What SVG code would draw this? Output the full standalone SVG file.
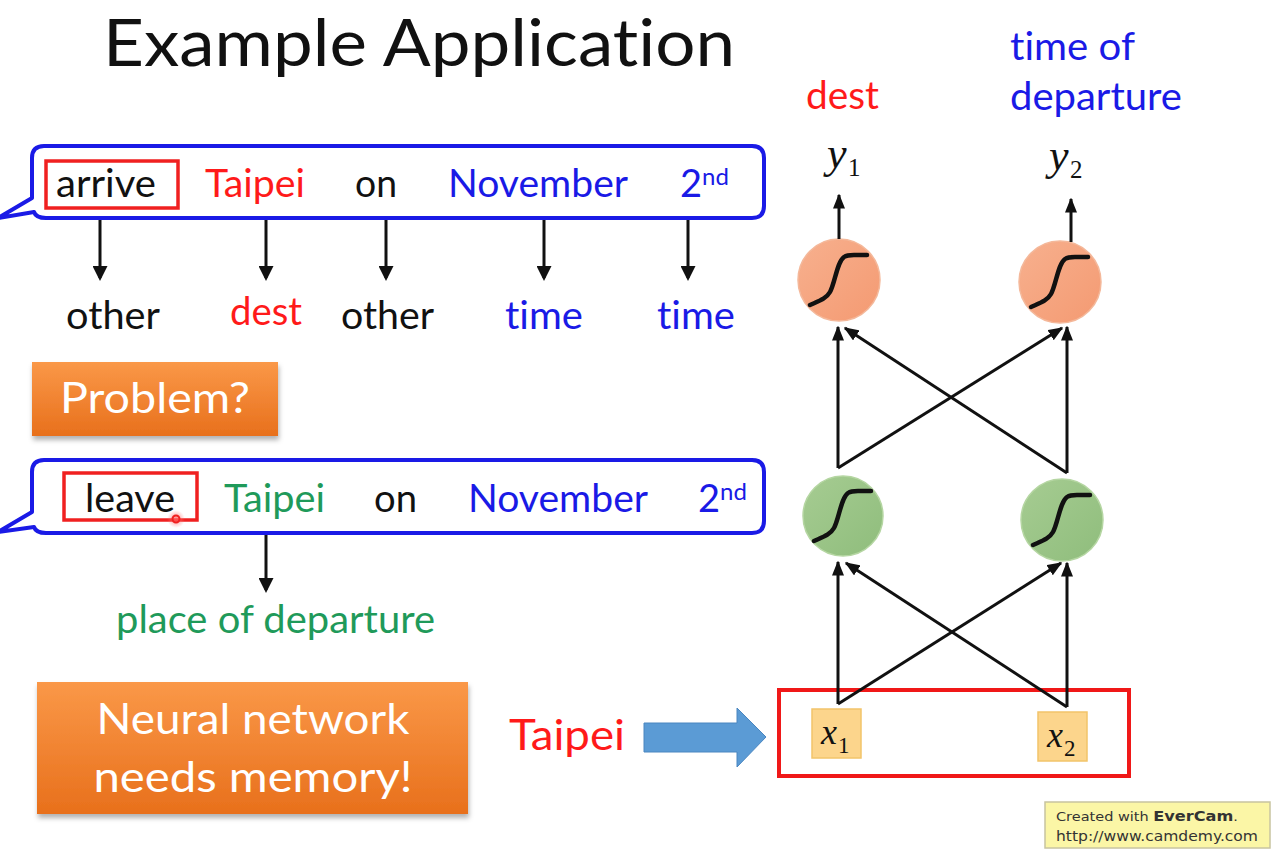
<svg xmlns="http://www.w3.org/2000/svg" width="1280" height="854" viewBox="0 0 1280 854">
<defs>
<style>
.t{font-family:Lato,"Open Sans","Liberation Sans",sans-serif;font-variant-ligatures:none}
.k{fill:#111}
.r{fill:#ff1a1a}
.b{fill:#1a1ae6}
.g{fill:#1f9a5a}
.w{fill:#ffffff}
.bub{fill:#ffffff;stroke:#1a1ae6;stroke-width:4;stroke-linejoin:round}
.hl{fill:none;stroke:#f02020;stroke-width:3.5}
.dn{stroke:#111;stroke-width:3;fill:none;marker-end:url(#ah)}
.nn{stroke:#111;stroke-width:3;fill:none;marker-end:url(#ah2)}
.sig{fill:none;stroke:#111;stroke-width:4.5;stroke-linecap:round;stroke-linejoin:round}
.m{font-family:"Liberation Serif","DejaVu Serif",serif;fill:#111}
</style>
<marker id="ah" markerWidth="5" markerHeight="5" refX="4" refY="2.5" orient="auto" markerUnits="strokeWidth">
<path d="M0,0 L5,2.5 L0,5 Z" fill="#111"/>
</marker>
<marker id="ah2" markerWidth="5" markerHeight="4" refX="4.5" refY="2" orient="auto" markerUnits="strokeWidth">
<path d="M0,0 L5,2 L0,4 Z" fill="#111"/>
</marker>
<path id="sg" class="sig" d="M-29,25 C-20,21 -13,19 -9,12 C-4,3 -2,-18 5,-23 C8,-25 11,-25 15,-25 L28,-25"/>
<linearGradient id="og" x1="0" y1="0" x2="0" y2="1">
<stop offset="0" stop-color="#fa9848"/>
<stop offset="1" stop-color="#e8701c"/>
</linearGradient>
<linearGradient id="oc" x1="0" y1="0" x2="1" y2="1">
<stop offset="0" stop-color="#f7b08e"/>
<stop offset="1" stop-color="#f49a72"/>
</linearGradient>
<linearGradient id="gc" x1="0" y1="0" x2="1" y2="1">
<stop offset="0" stop-color="#a6cc92"/>
<stop offset="1" stop-color="#8fbd7c"/>
</linearGradient>
<filter id="sh" x="-10%" y="-10%" width="120%" height="130%">
<feDropShadow dx="1" dy="4" stdDeviation="2.5" flood-color="#000" flood-opacity="0.3"/>
</filter>
<radialGradient id="cur">
<stop offset="0" stop-color="#ff6060" stop-opacity="0.8"/>
<stop offset="1" stop-color="#ff8080" stop-opacity="0"/>
</radialGradient>
</defs>
<rect width="1280" height="854" fill="#ffffff"/>

<text id="title" class="t k" x="103" y="66" font-size="66" textLength="632" lengthAdjust="spacingAndGlyphs">Example Application</text>

<g id="bubble1">
<path class="bub" d="M44,146 H752 Q764,146 764,158 V206 Q764,218 752,218 H46 Q36,218 34,212 L-2,218 L32,198 V158 Q32,146 44,146 Z"/>
<rect class="hl" x="46" y="161" width="132" height="47"/>
<text class="t k" x="56" y="197" font-size="38" textLength="100" lengthAdjust="spacingAndGlyphs">arrive</text>
<text class="t r" x="205" y="197" font-size="38" textLength="100" lengthAdjust="spacingAndGlyphs">Taipei</text>
<text class="t k" x="355" y="197" font-size="38" textLength="42" lengthAdjust="spacingAndGlyphs">on</text>
<text class="t b" x="448" y="197" font-size="38" textLength="180" lengthAdjust="spacingAndGlyphs">November</text>
<text class="t b" x="680" y="197" font-size="38">2<tspan font-size="24" dy="-12">nd</tspan></text>
</g>

<g id="labels1">
<text class="t k" x="66" y="329" font-size="38" textLength="94" lengthAdjust="spacingAndGlyphs">other</text>
<text class="t r" x="230" y="325" font-size="38" textLength="72" lengthAdjust="spacingAndGlyphs">dest</text>
<text class="t k" x="341" y="329" font-size="38" textLength="93" lengthAdjust="spacingAndGlyphs">other</text>
<text class="t b" x="505" y="329" font-size="38" textLength="78" lengthAdjust="spacingAndGlyphs">time</text>
<text class="t b" x="657" y="329" font-size="38" textLength="78" lengthAdjust="spacingAndGlyphs">time</text>
</g>

<g id="problem">
<rect x="32" y="362" width="246" height="74" fill="url(#og)" filter="url(#sh)"/>
<text class="t w" x="60" y="413" font-size="42" textLength="190" lengthAdjust="spacingAndGlyphs">Problem?</text>
</g>

<g id="bubble2">
<path class="bub" d="M44,460 H752 Q764,460 764,472 V521 Q764,533 752,533 H46 Q36,533 34,527 L-2,532 L32,512 V472 Q32,460 44,460 Z"/>
<rect class="hl" x="64" y="473" width="133" height="47"/>
<text class="t k" x="85" y="512" font-size="38" textLength="90" lengthAdjust="spacingAndGlyphs">leave</text>
<text class="t g" x="224" y="512" font-size="38" textLength="101" lengthAdjust="spacingAndGlyphs">Taipei</text>
<text class="t k" x="374" y="512" font-size="38" textLength="43" lengthAdjust="spacingAndGlyphs">on</text>
<text class="t b" x="468" y="512" font-size="38" textLength="180" lengthAdjust="spacingAndGlyphs">November</text>
<text class="t b" x="698" y="512" font-size="38">2<tspan font-size="24" dy="-12">nd</tspan></text>
<circle cx="176" cy="519" r="9" fill="url(#cur)"/>
<circle cx="176" cy="519" r="3.5" fill="none" stroke="#f02020" stroke-width="2"/>
</g>

<text id="place" class="t g" x="116" y="633" font-size="38" textLength="319" lengthAdjust="spacingAndGlyphs">place of departure</text>

<g id="memory">
<rect x="37" y="682" width="431" height="132" fill="url(#og)" filter="url(#sh)"/>
<text class="t w" x="253" y="734" font-size="42" text-anchor="middle" textLength="313" lengthAdjust="spacingAndGlyphs">Neural network</text>
<text class="t w" x="253" y="792" font-size="42" text-anchor="middle" textLength="319" lengthAdjust="spacingAndGlyphs">needs memory!</text>
</g>

<g id="taipei-input">
<text class="t r" x="509" y="750" font-size="42" textLength="116" lengthAdjust="spacingAndGlyphs">Taipei</text>
<path d="M644,723 H737 V708 L766,737 L737,767 V752 H644 Z" fill="#5b9bd5" stroke="#4a86c0" stroke-width="1"/>
</g>

<g id="input-box">
<rect x="779" y="690" width="350" height="86" fill="none" stroke="#f01818" stroke-width="4"/>
</g>
<g id="x1">
<rect x="812" y="709" width="49" height="49" fill="#fcd58c" stroke="#f2c46a" stroke-width="1.5"/>
<text class="m" x="821" y="744" font-size="36" font-style="italic">x</text>
<text class="m" x="838" y="753" font-size="23">1</text>
</g>
<g id="x2">
<rect x="1038" y="712" width="49" height="49" fill="#fcd58c" stroke="#f2c46a" stroke-width="1.5"/>
<text class="m" x="1047" y="747" font-size="36" font-style="italic">x</text>
<text class="m" x="1064" y="756" font-size="23">2</text>
</g>

<g id="h1">
<circle cx="843" cy="516" r="40" fill="url(#gc)" stroke="#b5d6a2" stroke-width="1.5"/>
<use href="#sg" transform="translate(843,516)"/>
</g>
<g id="h2">
<circle cx="1062" cy="520" r="41" fill="url(#gc)" stroke="#b5d6a2" stroke-width="1.5"/>
<use href="#sg" transform="translate(1062,520)"/>
</g>
<g id="o1">
<circle cx="839" cy="280" r="41" fill="url(#oc)" stroke="#f4b89a" stroke-width="1.5"/>
<use href="#sg" transform="translate(839,280)"/>
</g>
<g id="o2">
<circle cx="1060" cy="282" r="41" fill="url(#oc)" stroke="#f4b89a" stroke-width="1.5"/>
<use href="#sg" transform="translate(1060,282)"/>
</g>

<g id="outputs">
<text class="m" x="827" y="168" font-size="44" font-style="italic">y</text>
<text class="m" x="848" y="176" font-size="25">1</text>
<text class="m" x="1049" y="170" font-size="44" font-style="italic">y</text>
<text class="m" x="1070" y="178" font-size="25">2</text>
<text class="t r" x="806" y="109" font-size="38" textLength="73" lengthAdjust="spacingAndGlyphs">dest</text>
<text class="t b" x="1010" y="60" font-size="38" textLength="125" lengthAdjust="spacingAndGlyphs">time of</text>
<text class="t b" x="1010" y="110" font-size="38" textLength="172" lengthAdjust="spacingAndGlyphs">departure</text>
</g>

<g id="connectors">
<line class="dn" x1="100" y1="220" x2="100" y2="278"/>
<line class="dn" x1="266" y1="220" x2="266" y2="278"/>
<line class="dn" x1="386" y1="220" x2="386" y2="278"/>
<line class="dn" x1="544" y1="220" x2="544" y2="278"/>
<line class="dn" x1="688" y1="220" x2="688" y2="278"/>
<line class="dn" x1="266" y1="535" x2="266" y2="590"/>

<line class="nn" x1="838" y1="704" x2="838" y2="562"/>
<line class="nn" x1="1067" y1="707" x2="1067" y2="563"/>
<polyline class="nn" points="838,704 1061,563"/>
<polyline class="nn" points="1067,707 846,563"/>

<line class="nn" x1="838" y1="468" x2="838" y2="327"/>
<line class="nn" x1="1067" y1="473" x2="1067" y2="327"/>
<polyline class="nn" points="838,468 1062,328"/>
<polyline class="nn" points="1067,473 845,328"/>

<line class="nn" x1="839" y1="239" x2="839" y2="195"/>
<line class="nn" x1="1071" y1="242" x2="1071" y2="199"/>
</g>

<g id="watermark">
<rect x="1045" y="802" width="225" height="46" fill="#fbf6a6" stroke="#c8c4a0" stroke-width="1.5"/>
<text x="1056" y="821" font-family="'DejaVu Sans',sans-serif" font-size="13" fill="#333" textLength="182" lengthAdjust="spacingAndGlyphs">Created with <tspan font-weight="bold" font-size="14.5">EverCam</tspan>.</text>
<text x="1056" y="841" font-family="'DejaVu Sans',sans-serif" font-size="14" fill="#333" textLength="202" lengthAdjust="spacingAndGlyphs">http://www.camdemy.com</text>
</g>
</svg>
